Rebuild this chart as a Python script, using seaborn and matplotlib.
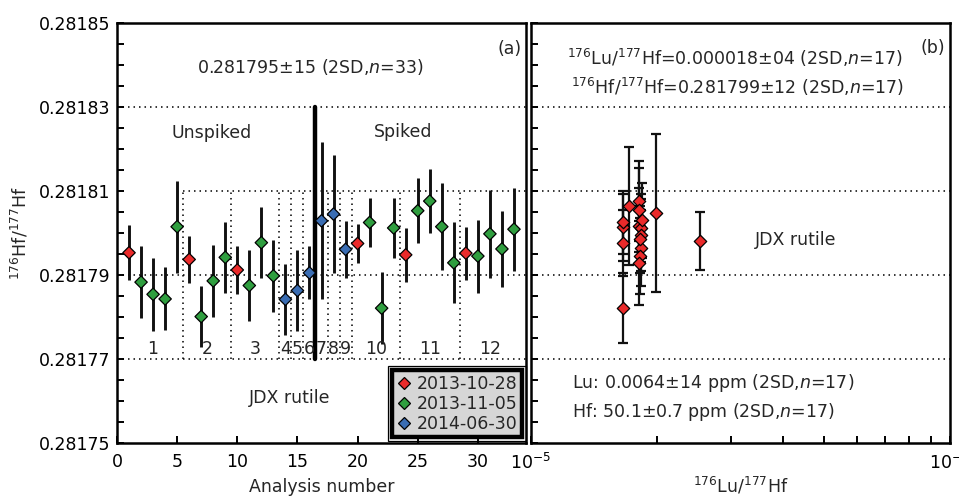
import matplotlib
matplotlib.use("Agg")
import matplotlib.pyplot as plt
from matplotlib.lines import Line2D
from matplotlib.patches import Rectangle
from matplotlib.ticker import (MultipleLocator, FixedLocator, FormatStrFormatter,
                               LogLocator, NullFormatter)
import numpy as np
import pandas as pd
import seaborn as sns

# ---- (a) repeated analyses of JDX rutile ----
analysis = list(range(1, 34))
hf_ratio = [0.2817953, 0.2817883, 0.2817854, 0.2817843, 0.2818015, 0.2817937,
            0.2817801, 0.2817886, 0.2817942, 0.2817912, 0.2817875, 0.2817977,
            0.2817898, 0.2817842, 0.2817863, 0.2817905, 0.2818029, 0.2818045,
            0.2817961, 0.2817975, 0.2818025, 0.2817821, 0.2818012, 0.2817948,
            0.2818053, 0.2818076, 0.2818015, 0.2817929, 0.2817952, 0.2817945,
            0.2817998, 0.2817962, 0.2818009]
hf_err = [0.0000065, 0.0000085, 0.0000087, 0.0000075, 0.0000110, 0.0000056,
          0.0000072, 0.0000086, 0.0000085, 0.0000058, 0.0000085, 0.0000085,
          0.0000085, 0.0000085, 0.0000096, 0.0000063, 0.0000187, 0.0000140,
          0.0000067, 0.0000046, 0.0000058, 0.0000086, 0.0000071, 0.0000064,
          0.0000077, 0.0000076, 0.0000104, 0.0000096, 0.0000063, 0.0000087,
          0.0000104, 0.0000090, 0.0000099]
S1, S2, S3 = "2013-10-28", "2013-11-05", "2014-06-30"
session = [S1, S2, S2, S2, S2, S1, S2, S2, S2, S1, S2, S2, S2, S3, S3, S3,
           S3, S3, S3, S1, S2, S2, S2, S1, S2, S2, S2, S2, S1, S2, S2, S2, S2]
sessions = [S1, S2, S3]
session_colors = ["#ea2a2a", "#2f9e3f", "#3a6db3"]

# analytical groups (boundaries between groups) and the unspiked/spiked split
group_names = ["1", "2", "3", "4", "5", "6", "7", "8", "9", "10", "11", "12"]
group_edges = [0.5, 5.5, 9.5, 13.5, 14.5, 15.5, 16.5, 17.5, 18.5, 19.5, 23.5, 28.5, 33.5]
spike_split = 16.5

# y-axis tick values shared by both panels
y_ticks = [0.28175, 0.28177, 0.28179, 0.28181, 0.28183, 0.28185]

# ---- (b) Lu/Hf versus Hf isotope ratio ----
lu_hf = [1.66e-5, 1.66e-5, 1.66e-5, 1.66e-5, 1.71e-5, 1.81e-5, 1.81e-5,
         1.81e-5, 1.83e-5, 1.83e-5, 1.83e-5, 1.82e-5, 1.81e-5, 1.99e-5,
         2.53e-5, 1.84e-5, 1.82e-5]
hf_ratio_b = [0.2817821, 0.2817976, 0.2818014, 0.2818026, 0.2818064, 0.2818076,
              0.2818055, 0.2818017, 0.2818012, 0.2817995, 0.2817964, 0.2817945,
              0.2817929, 0.2818048, 0.2817980, 0.2818030, 0.2817985]
hf_err_b = [0.0000083, 0.0000079, 0.0000080, 0.0000075, 0.0000140, 0.0000095,
            0.0000100, 0.0000090, 0.0000080, 0.0000085, 0.0000090, 0.0000090,
            0.0000100, 0.0000188, 0.0000069, 0.0000090, 0.0000080]

sns.set_theme(style="ticks")
plt.rcParams["font.family"] = ["DejaVu Sans"]
plt.rcParams["mathtext.fontset"] = "dejavusans"
plt.rcParams["mathtext.default"] = "regular"
FS = 12.5

df_a = pd.DataFrame({"analysis": analysis, "ratio": hf_ratio, "err": hf_err, "session": session})
df_b = pd.DataFrame({"luhf": lu_hf, "ratio": hf_ratio_b, "err": hf_err_b})
palette = dict(zip(sessions, session_colors))

fig = plt.figure(figsize=(9.59, 4.98), dpi=100)
ax1 = fig.add_axes([117 / 959, 55 / 498, 409 / 959, 420 / 498])
ax2 = fig.add_axes([531 / 959, 55 / 498, 419 / 959, 420 / 498])

dot = (0, (1, 2.6))

for ax in (ax1, ax2):
    ax.set_ylim(y_ticks[0], y_ticks[-1])
    for s in ax.spines.values():
        s.set_linewidth(1.8)
        s.set_color("black")
    ax.tick_params(axis="both", which="both", direction="in", length=5, width=1.4,
                   colors="black", labelsize=FS, top=False, right=False)

# ---------- panel (a) ----------
ax1.set_xlim(0, 34)
ax1.xaxis.set_major_locator(MultipleLocator(5))
ax1.xaxis.set_major_formatter(FormatStrFormatter("%d"))
ax1.yaxis.set_major_locator(FixedLocator(y_ticks))
ax1.yaxis.set_minor_locator(MultipleLocator(0.000005))
ax1.yaxis.set_major_formatter(FormatStrFormatter("%.5f"))
ax1.tick_params(axis="x", pad=7)
ax1.tick_params(axis="y", pad=5)

for yv in (y_ticks[4], y_ticks[2], y_ticks[1]):
    ax1.axhline(yv, color="black", lw=1.1, ls=dot, zorder=1)
ax1.plot([group_edges[1], 34], [y_ticks[3], y_ticks[3]], color="black", lw=1.1, ls=dot, zorder=1)
for xb in group_edges[1:-1]:
    if xb == spike_split:
        ax1.plot([xb, xb], [y_ticks[1], y_ticks[4]], color="black", lw=3.2, zorder=1)
    else:
        ax1.plot([xb, xb], [y_ticks[1], y_ticks[3]], color="black", lw=1.1, ls=dot, zorder=1)
for name, lo, hi in zip(group_names, group_edges[:-1], group_edges[1:]):
    ax1.text((lo + hi) / 2, 0.2817703, name, ha="center", va="bottom", fontsize=FS)

ax1.errorbar(df_a["analysis"], df_a["ratio"], yerr=df_a["err"], fmt="none",
             ecolor="#111111", elinewidth=2.1, capsize=0, zorder=2)
sns.scatterplot(data=df_a, x="analysis", y="ratio", hue="session", hue_order=sessions,
                palette=palette, marker="D", s=40, edgecolor="black", linewidth=0.9,
                legend=False, zorder=3, ax=ax1)

ax1.text(0.474, 0.895, r"0.281795±15 (2SD,$\mathit{n}$=33)", transform=ax1.transAxes,
         ha="center", va="center", fontsize=FS)
ax1.text(0.961, 0.938, "(a)", transform=ax1.transAxes, ha="center", va="center", fontsize=FS)
ax1.text(0.232, 0.738, "Unspiked", transform=ax1.transAxes, ha="center", va="center", fontsize=FS)
ax1.text(0.699, 0.740, "Spiked", transform=ax1.transAxes, ha="center", va="center", fontsize=FS)
ax1.text(0.423, 0.107, "JDX rutile", transform=ax1.transAxes, ha="center", va="center", fontsize=FS)

ax1.set_xlabel("Analysis number", fontsize=FS, labelpad=5)
ax1.set_ylabel(r"$^{176}$Hf/$^{177}$Hf", fontsize=FS, labelpad=6)

handles = [Line2D([], [], ls="none", marker="D", markersize=6.2, markerfacecolor=c,
                  markeredgecolor="black", markeredgewidth=0.9) for c in session_colors]
leg = ax1.legend(handles, sessions, loc="lower right", bbox_to_anchor=(0.99, 0.014),
                 borderaxespad=0, frameon=True, fancybox=False, facecolor="#d6d6d6",
                 edgecolor="black", framealpha=1, fontsize=FS, handlelength=0.9,
                 handletextpad=0.3, labelspacing=0.12, borderpad=0.25)
leg.get_frame().set_linewidth(3.2)

# ---------- panel (b) ----------
ax2.set_xscale("log")
ax2.set_xlim(1e-5, 1e-4)
ax2.xaxis.set_major_locator(LogLocator(base=10))
ax2.xaxis.set_minor_locator(LogLocator(base=10, subs=np.arange(2, 10)))
ax2.xaxis.set_minor_formatter(NullFormatter())
ax2.yaxis.set_major_locator(MultipleLocator(0.000005))
ax2.yaxis.set_major_formatter(NullFormatter())
ax2.tick_params(axis="x", pad=7)
for yv in y_ticks[1:5]:
    ax2.axhline(yv, color="black", lw=1.1, ls=dot, zorder=1)

ax2.errorbar(df_b["luhf"], df_b["ratio"], yerr=df_b["err"], fmt="none", ecolor="#111111",
             elinewidth=1.6, capsize=3.5, capthick=1.6, zorder=2)
sns.scatterplot(data=df_b, x="luhf", y="ratio", color=session_colors[0], marker="D", s=40,
                edgecolor="black", linewidth=0.9, legend=False, zorder=3, ax=ax2)

ax2.text(0.487, 0.917, r"$^{176}$Lu/$^{177}$Hf=0.000018±04 (2SD,$\mathit{n}$=17)",
         transform=ax2.transAxes, ha="center", va="center", fontsize=FS)
ax2.text(0.492, 0.848, r"$^{176}$Hf/$^{177}$Hf=0.281799±12 (2SD,$\mathit{n}$=17)",
         transform=ax2.transAxes, ha="center", va="center", fontsize=FS)
ax2.text(0.959, 0.940, "(b)", transform=ax2.transAxes, ha="center", va="center", fontsize=FS)
ax2.text(0.632, 0.483, "JDX rutile", transform=ax2.transAxes, ha="center", va="center", fontsize=FS)
ax2.text(0.098, 0.143, r"Lu: 0.0064±14 ppm (2SD,$\mathit{n}$=17)", transform=ax2.transAxes,
         ha="left", va="center", fontsize=FS)
ax2.text(0.098, 0.074, r"Hf: 50.1±0.7 ppm (2SD,$\mathit{n}$=17)", transform=ax2.transAxes,
         ha="left", va="center", fontsize=FS)
ax2.set_xlabel(r"$^{176}$Lu/$^{177}$Hf", fontsize=FS, labelpad=2)
ax2.set_ylabel("")

# thin outer rule around the legend box
fig.canvas.draw()
bb = leg.get_window_extent().transformed(fig.transFigure.inverted())
px, py = 4 / 959, 4 / 498
fig.add_artist(Rectangle((bb.x0 - px, bb.y0 - py), bb.width + 2 * px, bb.height + 2 * py,
                         transform=fig.transFigure, fill=False, edgecolor="black", lw=0.9,
                         zorder=10))

fig.savefig("out.png", dpi=100)
